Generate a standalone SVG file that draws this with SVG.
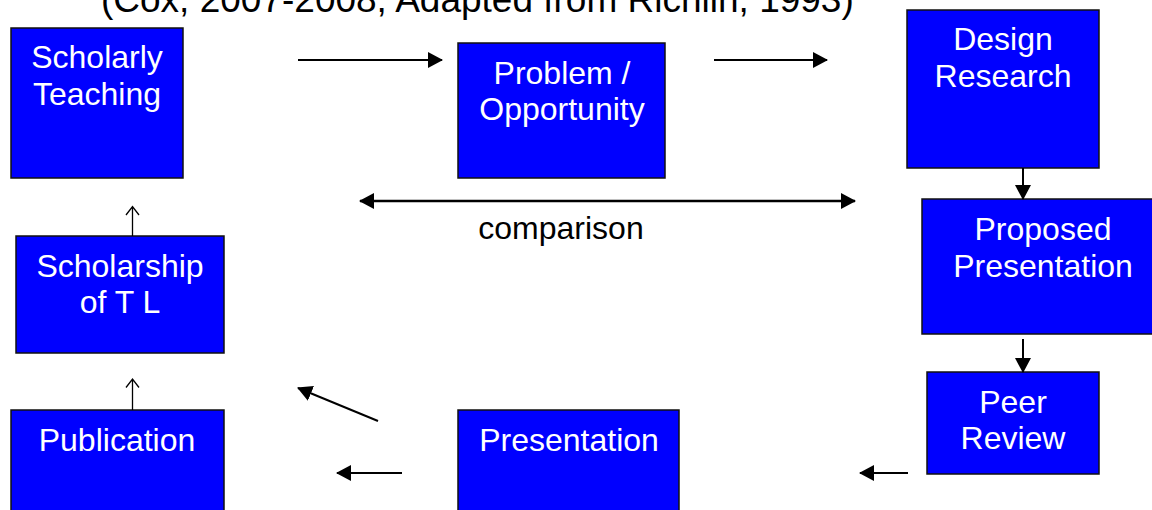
<svg xmlns="http://www.w3.org/2000/svg" width="1152" height="510" viewBox="0 0 1152 510">
<style>
.box{fill:#0000FF;stroke:#111;stroke-width:1.5}
.lbl{font-family:"Liberation Sans",Arial,sans-serif;font-size:32px;fill:#fff;text-anchor:middle}
.title{font-family:"Liberation Sans",Arial,sans-serif;font-size:37px;fill:#000}
.cap{font-family:"Liberation Sans",Arial,sans-serif;font-size:32px;fill:#000;text-anchor:middle}
.arr{stroke:#000;stroke-width:2;fill:none}
.thin{stroke:#000;stroke-width:1.3;fill:none}
</style>
<defs>
<marker id="ah" viewBox="0 0 15 16" refX="14" refY="8" markerWidth="15" markerHeight="16" markerUnits="userSpaceOnUse" orient="auto-start-reverse">
<path d="M0,0 L15,8 L0,16 Z" fill="#000"/>
</marker>
</defs>
<text class="title" x="101" y="12">(Cox, 2007-2008, Adapted from Richlin, 1993)</text>
<g id="scholarly-teaching">
<rect class="box" x="11" y="28" width="172" height="150"/>
<text class="lbl" x="97" y="68">Scholarly</text>
<text class="lbl" x="97" y="105">Teaching</text>
</g>
<g id="problem-opportunity">
<rect class="box" x="458" y="43" width="207" height="135"/>
<text class="lbl" x="562" y="84">Problem /</text>
<text class="lbl" x="562" y="120">Opportunity</text>
</g>
<g id="design-research">
<rect class="box" x="907" y="10" width="192" height="158"/>
<text class="lbl" x="1003" y="50">Design</text>
<text class="lbl" x="1003" y="87">Research</text>
</g>
<g id="proposed-presentation">
<rect class="box" x="922" y="199" width="245" height="135"/>
<text class="lbl" x="1043" y="240">Proposed</text>
<text class="lbl" x="1043" y="277">Presentation</text>
</g>
<g id="peer-review">
<rect class="box" x="927" y="372" width="172" height="102"/>
<text class="lbl" x="1013" y="413">Peer</text>
<text class="lbl" x="1013" y="449">Review</text>
</g>
<g id="scholarship-tl">
<rect class="box" x="16" y="236" width="208" height="117"/>
<text class="lbl" x="120" y="277">Scholarship</text>
<text class="lbl" x="120" y="313">of T L</text>
</g>
<g id="publication">
<rect class="box" x="11" y="410" width="213" height="115"/>
<text class="lbl" x="117" y="451">Publication</text>
</g>
<g id="presentation">
<rect class="box" x="458" y="410" width="221" height="115"/>
<text class="lbl" x="569" y="451">Presentation</text>
</g>
<g id="connectors">
<line class="arr" x1="298" y1="60" x2="442" y2="60" marker-end="url(#ah)"/>
<line class="arr" x1="714" y1="60" x2="827" y2="60" marker-end="url(#ah)"/>
<line class="arr" x1="1023" y1="168" x2="1023" y2="199" marker-end="url(#ah)"/>
<line class="arr" x1="1023" y1="339" x2="1023" y2="372" marker-end="url(#ah)"/>
<line class="arr" x1="908" y1="473" x2="860" y2="473" marker-end="url(#ah)"/>
<line class="arr" x1="402" y1="473" x2="337" y2="473" marker-end="url(#ah)"/>
<line class="arr" x1="378" y1="421" x2="298" y2="388" marker-end="url(#ah)"/>
<line class="arr" style="stroke-width:2.5" x1="360" y1="201" x2="855" y2="201" marker-start="url(#ah)" marker-end="url(#ah)"/>
<path class="thin" d="M132.5,236 V206.5 M126,215 L132.5,206.5 L139,215"/>
<path class="thin" d="M132.5,410 V379 M126,387.5 L132.5,379 L139,387.5"/>
</g>
<text class="cap" x="561" y="239">comparison</text>
</svg>
